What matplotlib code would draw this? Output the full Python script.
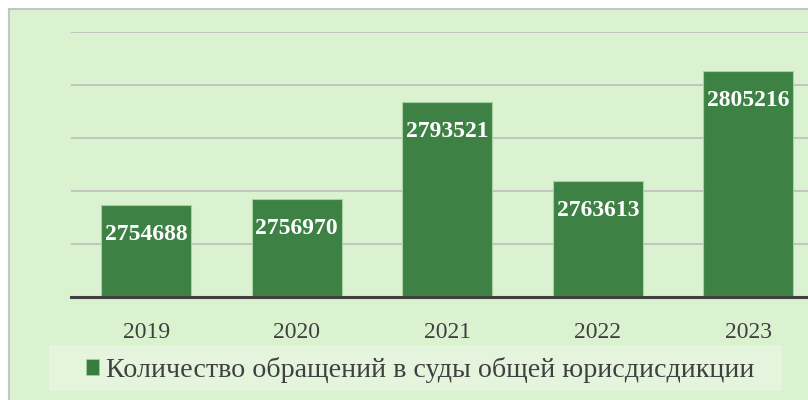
import matplotlib
matplotlib.use("Agg")
import matplotlib.pyplot as plt
from matplotlib.patches import Rectangle

# ---------- DATA ----------
years = ["2019", "2020", "2021", "2022", "2023"]
counts = [2754688, 2756970, 2793521, 2763613, 2805216]
series_name = "Количество обращений в суды общей юрисдисдикции"

# ---------- STYLE ----------
BG = "#DAF2D0"
BAR = "#367E3E"
GRID = "#BDBFBC"
TEXT = "#404040"
plt.rcParams["font.family"] = ["Liberation Serif", "DejaVu Serif"]

fig = plt.figure(figsize=(8.08, 4.0), dpi=100)
fig.patch.set_facecolor("white")

# outer chart frame (cropped at right and bottom)
frame = Rectangle((8.5 / 808, -0.1), 1.2, 1.1 - 9.5 / 400,
                  transform=fig.transFigure, facecolor=BG,
                  edgecolor="#BFC9BB", linewidth=1.5, zorder=-2)
fig.patches.append(frame)
# legend background strip
fig.patches.append(Rectangle((49 / 808, 1 - 391 / 400), 733 / 808, 46 / 400,
                             transform=fig.transFigure, facecolor="#E4F4DD",
                             edgecolor="none", zorder=-1))

ax = fig.add_axes([71 / 808, 103 / 400, 752.5 / 808, 265 / 400])
ax.set_facecolor("none")

x = range(len(years))
bars = ax.bar(x, counts, width=0.6, color=BAR, edgecolor="#A9D3A2",
              linewidth=0.8, alpha=0.96, zorder=2)

ax.set_xlim(-0.5, len(years) - 0.5)
ax.set_ylim(2720000, 2820000)
ax.set_yticks([2740000, 2760000, 2780000, 2800000, 2820000])
ax.yaxis.grid(True, color=GRID, linewidth=1.2, zorder=1)
ax.set_axisbelow(True)
ax.tick_params(axis="y", left=False, labelleft=False)
ax.set_xticks(list(x))
ax.set_xticklabels(years, fontsize=17, color=TEXT)
ax.tick_params(axis="x", length=0, pad=18)
for s in ["top", "right", "left"]:
    ax.spines[s].set_visible(False)
ax.spines["bottom"].set_color(TEXT)
ax.spines["bottom"].set_linewidth(2.2)
ax.spines["bottom"].set_zorder(3)

# value labels inside the top of each bar
for xi, v in zip(x, counts):
    ax.annotate(str(v), xy=(xi, v), xytext=(0, -21), textcoords="offset points",
                ha="center", va="center", fontsize=17, fontweight="bold",
                color="white", zorder=4)

# legend
handle = Rectangle((0, 0), 1, 1, facecolor=BAR, edgecolor="#A9D3A2", linewidth=0.5)
leg = fig.legend([handle], [series_name], loc="center left",
                 bbox_to_anchor=(86 / 808, 1 - 370 / 400),
                 fontsize=20.2, frameon=False,
                 handlelength=0.47, handleheight=0.47, handletextpad=0.25,
                 borderpad=0, borderaxespad=0, labelcolor=TEXT)

fig.savefig("out.png", dpi=100, facecolor=fig.get_facecolor())
